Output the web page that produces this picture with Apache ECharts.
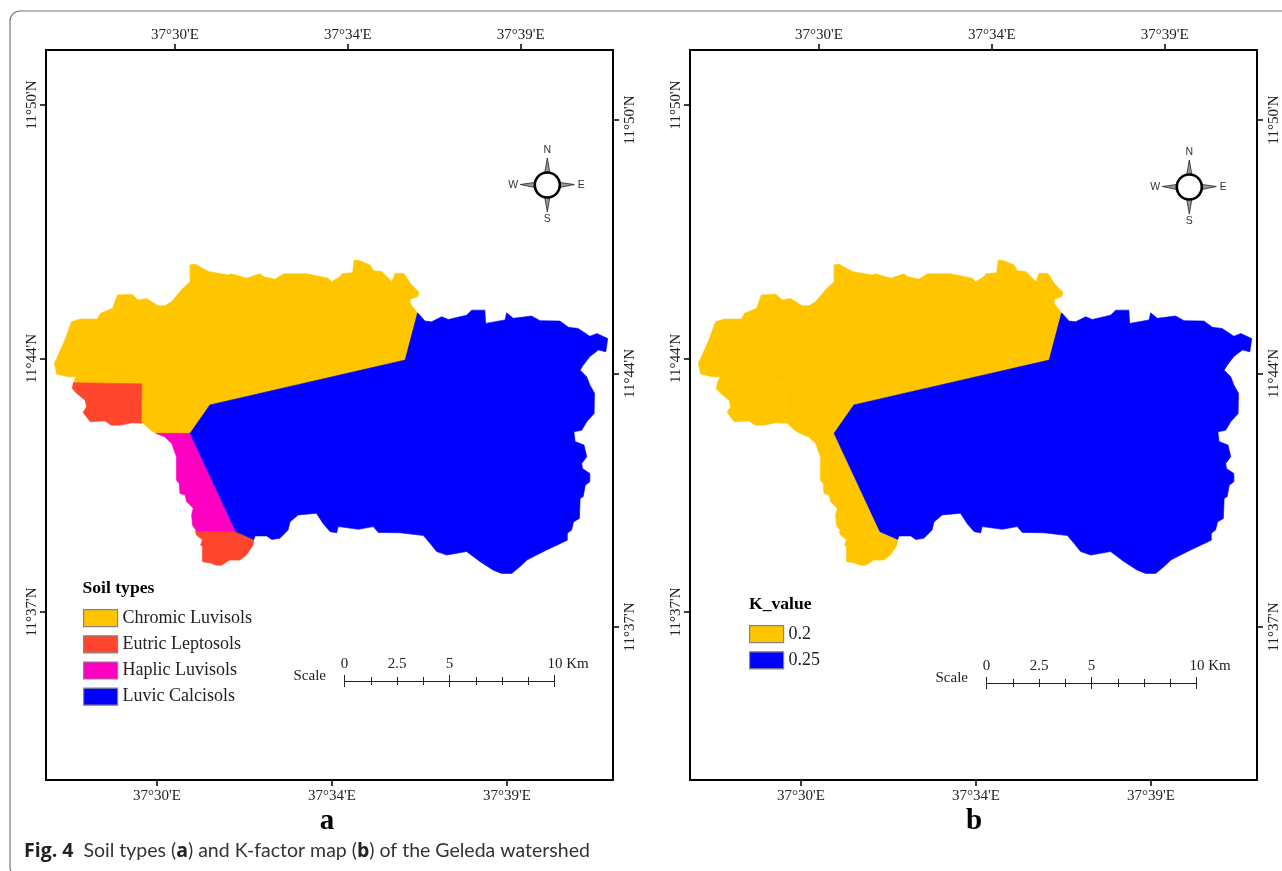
<!DOCTYPE html>
<html><head><meta charset="utf-8">
<style>html,body{margin:0;padding:0;background:#fff}#c{width:1282px;height:871px}</style>
<script src="https://cdn.jsdelivr.net/npm/echarts@6/dist/echarts.min.js"></script>
</head><body><div id="c"></div>
<script>
// Outlines as [longitude minutes past 37°, latitude minutes past 11°]
const chromicLuvisols=[[27.36,43.38],[27.42,43.5],[27.63,43.97],[27.8,44.44],[28.02,44.51],[28.46,44.51],[28.55,44.66],[28.86,44.79],[28.98,45.13],[29.35,45.15],[29.52,45],[29.73,45.04],[30.03,44.85],[30.2,44.85],[30.38,44.96],[30.63,45.26],[30.85,45.47],[30.85,45.9],[30.98,45.92],[31.32,45.73],[31.83,45.64],[31.92,45.67],[32.3,45.56],[32.65,45.67],[32.73,45.6],[33.03,45.53],[33.25,45.67],[33.85,45.67],[34.4,45.56],[34.49,45.47],[34.71,45.6],[34.75,45.67],[35.03,45.7],[35.07,46.02],[35.18,46.02],[35.48,45.9],[35.56,45.75],[35.78,45.73],[36.04,45.47],[36.12,45.68],[36.35,45.68],[36.51,45.43],[36.74,45.19],[36.7,45.09],[36.51,45.02],[36.51,44.91],[36.7,44.67],[36.38,43.46],[31.36,42.31],[30.85,41.58],[29.97,41.58],[29.82,41.67],[29.65,41.84],[29.61,41.84],[29.61,42.85],[27.85,42.88],[27.92,43.03],[27.72,43.03],[27.42,43.1]];
const eutricNorth=[[27.82,42.73],[27.85,42.88],[29.61,42.85],[29.6,41.84],[29.35,41.85],[29.05,41.79],[28.83,41.79],[28.66,41.9],[28.28,41.88],[28.15,42.05],[28.1,42.12],[28.19,42.26],[28.15,42.43],[27.93,42.61]];
const haplicLuvisols=[[29.97,41.58],[30.85,41.58],[32.03,39.06],[31.02,39.07],[30.91,39.23],[30.89,39.49],[30.93,39.66],[30.76,39.83],[30.72,40],[30.59,40.04],[30.57,40.3],[30.5,40.38],[30.5,40.98],[30.42,41.2],[30.38,41.32],[30.2,41.49]];
const eutricSouth=[[30.98,39.07],[32.03,39.06],[32.49,38.86],[32.47,38.72],[32.3,38.46],[32.13,38.33],[31.87,38.33],[31.66,38.2],[31.53,38.2],[31.36,38.26],[31.17,38.29],[31.17,38.67],[31.12,38.72],[31.17,38.85],[31.02,38.97]];
const luvicCalcisols=[[36.7,44.67],[36.76,44.61],[36.89,44.46],[37.06,44.44],[37.32,44.57],[37.49,44.5],[37.96,44.61],[38.09,44.74],[38.43,44.74],[38.45,44.4],[38.95,44.49],[38.99,44.67],[39.16,44.53],[39.63,44.59],[39.85,44.47],[40.36,44.46],[40.58,44.3],[40.83,44.27],[41.13,44.07],[41.31,44.14],[41.59,44.01],[41.54,43.67],[41.35,43.72],[41.13,43.55],[40.96,43.33],[40.88,43.2],[41.05,43.03],[41.13,42.82],[41.25,42.61],[41.24,42.09],[41.05,41.88],[40.92,41.66],[40.72,41.62],[40.75,41.37],[40.98,41.28],[41.05,40.98],[40.92,40.81],[40.94,40.68],[41.13,40.55],[41.13,40.34],[41.01,40.25],[40.96,39.96],[40.88,39.91],[40.86,39.4],[40.71,39.31],[40.66,39.1],[40.55,39.02],[40.55,38.84],[40.02,38.59],[39.76,38.46],[39.51,38.33],[39.33,38.16],[39.12,37.99],[38.86,37.99],[38.65,38.07],[38.31,38.29],[37.96,38.55],[37.45,38.46],[37.19,38.55],[37.02,38.76],[36.85,38.96],[36.25,39.03],[35.69,39.04],[35.56,39.19],[35.18,39.12],[34.66,39.19],[34.62,39.03],[34.45,39.06],[34.27,39.27],[34.1,39.53],[33.63,39.49],[33.42,39.31],[33.37,39.1],[33.16,38.89],[32.95,38.86],[32.82,38.95],[32.52,38.95],[32.49,38.86],[32.03,39.06],[30.85,41.58],[31.36,42.31],[36.38,43.46]];

const lonTickValues=[30,34.5,39];
const lonTickLabels=["37°30'E","37°34'E","37°39'E"];
const latTickValues=[37,43.5,50];
const latTickLabels=["11°37'N","11°44'N","11°50'N"];
const scaleLabelValues=[0,2.5,5,10];
const soilNames=["Chromic Luvisols","Eutric Leptosols","Haplic Luvisols","Luvic Calcisols"];
const kNames=["0.2","0.25"];

const YELLOW='#FFC600',RED='#FF452B',MAGENTA='#FF00C3',BLUE='#0000FF';
const SERIF='"Liberation Serif","Times New Roman",serif';
const TEXT='#222';

function polySeries(name,outline,color,panel){
  return {type:'custom',name,data:outline,xAxisIndex:panel*2,yAxisIndex:panel*2,silent:true,
    itemStyle:{color},clip:true,animation:false,
    renderItem:function(params,api){
      if(params.dataIndex!==0) return null;
      return {type:'polygon',shape:{points:outline.map(p=>api.coord(p))},
        style:{fill:color,stroke:color,lineWidth:0.6}};
    }};
}
function mapXAxis(grid,pos,min,max,margin){
  const fmt=v=>lonTickLabels[lonTickValues.indexOf(v)];
  return {type:'value',gridIndex:grid,position:pos,min,max,
    axisLine:{show:true,onZero:false,lineStyle:{color:'#000',width:2}},
    axisTick:{show:true,length:6,customValues:lonTickValues,lineStyle:{color:'#000',width:1.5}},
    axisLabel:{show:true,customValues:lonTickValues,formatter:fmt,margin,color:TEXT,fontFamily:SERIF,fontSize:15},
    splitLine:{show:false}};
}
function mapYAxis(grid,pos,min,max,margin){
  const fmt=v=>latTickLabels[latTickValues.indexOf(v)];
  return {type:'value',gridIndex:grid,position:pos,min,max,
    axisLine:{show:true,onZero:false,lineStyle:{color:'#000',width:2}},
    axisTick:{show:true,length:6,customValues:latTickValues,lineStyle:{color:'#000',width:1.5}},
    axisLabel:{show:true,customValues:latTickValues,formatter:fmt,rotate:90,margin,color:TEXT,fontFamily:SERIF,fontSize:15},
    splitLine:{show:false}};
}
function scaleAxis(grid,pos,labelled){
  const a={type:'value',gridIndex:grid,position:pos,min:0,max:10,interval:5,
    axisLine:{show:true,onZero:false,lineStyle:{color:'#222',width:1}},
    axisTick:{show:true,length:6,lineStyle:{color:'#222',width:1}},
    minorTick:{show:true,splitNumber:4,length:4,lineStyle:{color:'#222',width:1}},
    splitLine:{show:false},minorSplitLine:{show:false},
    axisLabel:{show:false}};
  if(labelled){
    a.axisLabel={show:true,customValues:scaleLabelValues,margin:9,color:TEXT,fontFamily:SERIF,fontSize:15,
      formatter:v=>v===10?'{p|}10 Km':String(v),rich:{p:{width:27}}};
  }
  return a;
}
function compass(cx,cy){
  const tip=(pts)=>({type:'polygon',shape:{points:pts},style:{fill:'#999',stroke:'#222',lineWidth:0.8,lineJoin:'miter'},silent:true});
  const letter=(t,x,y)=>({type:'text',x,y,style:{text:t,fill:'#333',font:'10.5px "Liberation Sans",Arial,sans-serif',align:'center',verticalAlign:'middle'}});
  return {type:'group',x:cx,y:cy,silent:true,children:[
    tip([[0,-27],[2.6,-12],[-2.6,-12]]),tip([[0,27],[2.6,12],[-2.6,12]]),
    tip([[27,-0.5],[12,-2.6],[12,2.6]]),tip([[-27,-0.5],[-12,-2.6],[-12,2.6]]),
    {type:'circle',shape:{r:12.5},style:{fill:'#fff',stroke:'#000',lineWidth:2.6}},
    letter('N',0,-35),letter('E',34,0),letter('W',-34,0),letter('S',0,34.5)
  ]};
}
function legendOf(names,swatches,left,top,gap){
  return {orient:'vertical',left,top,itemWidth:34,itemHeight:17,itemGap:gap,selectedMode:false,icon:'rect',
    data:names.map((n,i)=>({name:n,icon:'rect',itemStyle:{color:swatches[i],borderColor:'#858585',borderWidth:1.2}})),
    textStyle:{color:TEXT,fontFamily:SERIF,fontSize:18}};
}
const heading=(t,x,y)=>({type:'text',x,y,silent:true,style:{text:t,fill:'#000',font:'bold 17.6px '+SERIF,align:'left',verticalAlign:'middle'}});
const panelLetter=(t,x)=>({type:'text',x,y:822,silent:true,style:{text:t,fill:'#000',font:'bold 29px '+SERIF,align:'center',verticalAlign:'middle'}});
const scaleWord=(x,y)=>({type:'text',x,y,silent:true,style:{text:'Scale',fill:TEXT,font:'15px '+SERIF,align:'right',verticalAlign:'middle'}});

const option={
  backgroundColor:'#fff',animation:false,
  grid:[
    {left:46,top:50,width:567,height:730},
    {left:690,top:50,width:567,height:730},
    {left:344.5,top:681,width:210,height:0},
    {left:986.5,top:683,width:210,height:0}
  ],
  xAxis:[
    mapXAxis(0,'bottom',27.146,41.725,9),mapXAxis(0,'top',26.64,41.406,7),
    mapXAxis(1,'bottom',27.146,41.725,9),mapXAxis(1,'top',26.64,41.406,7),
    scaleAxis(2,'top',true),scaleAxis(2,'bottom',false),
    scaleAxis(3,'top',true),scaleAxis(3,'bottom',false)
  ],
  yAxis:[
    mapYAxis(0,'left',32.692,51.41,6),mapYAxis(0,'right',33.077,51.795,10),
    mapYAxis(1,'left',32.692,51.41,6),mapYAxis(1,'right',33.077,51.795,10),
    {type:'value',gridIndex:2,show:false,min:0,max:1},
    {type:'value',gridIndex:3,show:false,min:0,max:1}
  ],
  legend:[
    legendOf(soilNames,[YELLOW,RED,MAGENTA,BLUE],78,604,8),
    legendOf(kNames,[YELLOW,BLUE],744,620,8)
  ],
  series:[
    polySeries(soilNames[0],chromicLuvisols,YELLOW,0),
    polySeries(soilNames[1],eutricNorth,RED,0),
    polySeries(soilNames[1],eutricSouth,RED,0),
    polySeries(soilNames[2],haplicLuvisols,MAGENTA,0),
    polySeries(soilNames[3],luvicCalcisols,BLUE,0),
    polySeries(kNames[0],chromicLuvisols,YELLOW,1),
    polySeries(kNames[0],eutricNorth,YELLOW,1),
    polySeries(kNames[0],eutricSouth,YELLOW,1),
    polySeries(kNames[0],haplicLuvisols,YELLOW,1),
    polySeries(kNames[1],luvicCalcisols,BLUE,1)
  ],
  graphic:{elements:[
    {type:'rect',silent:true,z:-10,shape:{x:10,y:11,width:1320,height:866,r:10},style:{fill:'none',stroke:'#777',lineWidth:1.2}},
    compass(547.3,185),compass(1189.3,187),
    heading('Soil types',82.5,588),heading('K_value',749,604),
    scaleWord(326,676),scaleWord(968,678),
    panelLetter('a',327),panelLetter('b',974),
    {type:'text',x:24,y:851,silent:true,style:{
      text:'{h|Fig. 4}{n|  Soil types (}{b|a}{n|) and K-factor map (}{b|b}{n|) of the Geleda watershed}',
      verticalAlign:'middle',align:'left',
      rich:{h:{font:'bold 19.5px "Open Sans",sans-serif',fill:'#222'},
            n:{font:'19.5px Lato,sans-serif',fill:'#333'},
            b:{font:'bold 19.5px "Open Sans",sans-serif',fill:'#222'}}}}
  ]}
};
const chart=echarts.init(document.getElementById('c'),null,{renderer:'canvas'});
chart.setOption(option);
</script></body></html>
